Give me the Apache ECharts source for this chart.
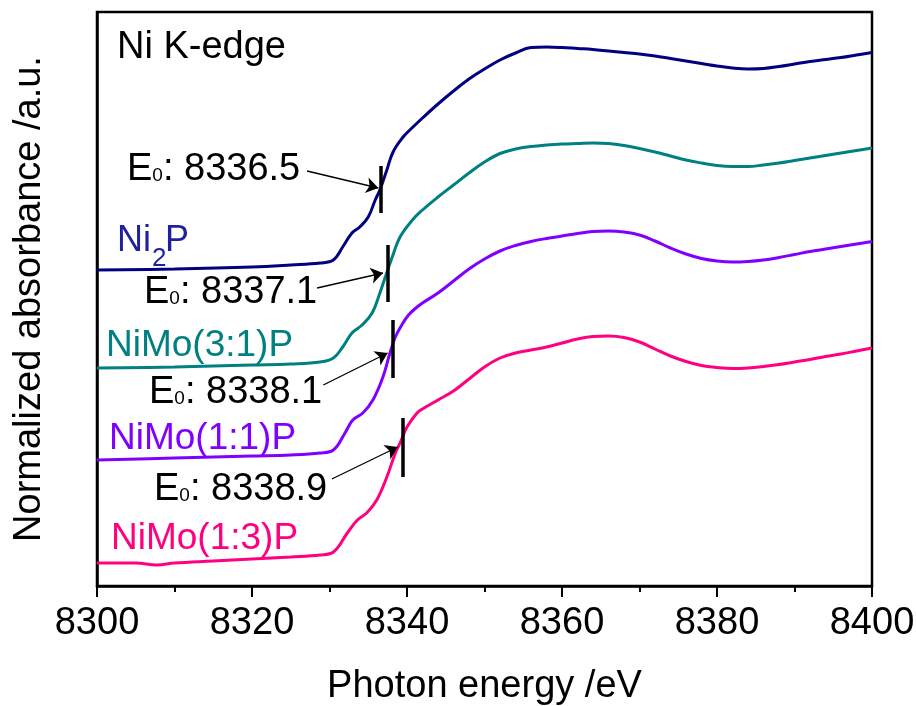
<!DOCTYPE html>
<html><head><meta charset="utf-8">
<script src="https://cdn.jsdelivr.net/npm/echarts@6/dist/echarts.min.js"></script>
<style>html,body{margin:0;padding:0;background:#fff}#c{width:916px;height:706px}</style>
</head><body><div id="c"></div>
<script>
const FONT = '"Liberation Sans", Arial, sans-serif';

// ---------- data ----------
const xTicks = [8300, 8320, 8340, 8360, 8380, 8400];
const seriesNames = ['Ni2P', 'NiMo(3:1)P', 'NiMo(1:1)P', 'NiMo(1:3)P'];
const seriesColors = ['#000080', '#008080', '#8000FF', '#FF0080'];

const ni2p = [[8300,3.18],[8310,3.19],[8320,3.21],[8325,3.23],[8328.8,3.25],[8330.5,3.28],[8331.7,3.41],[8332.9,3.55],[8333.9,3.61],[8335.0,3.71],[8335.9,3.88],[8336.5,3.98],[8337.4,4.18],[8338.2,4.36],[8339.5,4.51],[8340.5,4.59],[8342,4.70],[8344,4.84],[8346,4.97],[8348,5.09],[8350,5.19],[8352,5.28],[8354,5.35],[8356,5.405],[8358,5.41],[8360,5.405],[8362,5.395],[8364,5.385],[8366,5.37],[8368,5.355],[8370,5.34],[8372,5.32],[8374,5.295],[8376,5.27],[8378,5.245],[8380,5.22],[8382,5.20],[8384,5.19],[8386,5.195],[8388,5.215],[8390,5.24],[8392,5.265],[8394,5.285],[8396,5.305],[8398,5.33],[8400,5.355]];
const nimo31 = [[8300,2.20],[8310,2.21],[8320,2.23],[8325,2.24],[8328.8,2.26],[8330.5,2.30],[8331.7,2.41],[8332.9,2.55],[8334.2,2.63],[8335.5,2.75],[8336.5,2.95],[8337.2,3.11],[8338.1,3.31],[8339.1,3.51],[8340.7,3.68],[8342,3.78],[8344,3.91],[8346,4.03],[8348,4.15],[8350,4.26],[8352,4.345],[8354,4.39],[8356,4.415],[8358,4.43],[8360,4.44],[8362,4.445],[8364,4.45],[8366,4.445],[8368,4.425],[8370,4.395],[8372,4.36],[8374,4.32],[8376,4.28],[8378,4.25],[8380,4.225],[8382,4.215],[8384,4.215],[8386,4.23],[8388,4.25],[8390,4.275],[8392,4.30],[8394,4.325],[8396,4.35],[8398,4.375],[8400,4.40]];
const nimo11 = [[8300,1.28],[8310,1.30],[8320,1.32],[8325,1.33],[8328.8,1.35],[8330.5,1.38],[8332.0,1.55],[8333.0,1.68],[8334.3,1.75],[8335.6,1.88],[8336.9,2.11],[8337.8,2.35],[8338.5,2.51],[8339.4,2.64],[8340.2,2.73],[8341.3,2.81],[8342,2.85],[8344,2.95],[8346,3.07],[8348,3.19],[8350,3.29],[8352,3.37],[8354,3.425],[8356,3.465],[8358,3.495],[8360,3.52],[8362,3.545],[8364,3.565],[8366,3.57],[8368,3.56],[8370,3.53],[8372,3.47],[8374,3.40],[8376,3.34],[8378,3.295],[8380,3.27],[8382,3.26],[8384,3.265],[8386,3.28],[8388,3.305],[8390,3.335],[8392,3.365],[8394,3.39],[8396,3.415],[8398,3.44],[8400,3.465]];
const nimo13 = [[8300,0.25],[8305,0.25],[8307.7,0.23],[8310,0.25],[8315,0.27],[8320,0.29],[8325,0.31],[8328.8,0.33],[8330.5,0.36],[8332.3,0.55],[8333.6,0.68],[8334.8,0.75],[8336.1,0.88],[8337.4,1.11],[8338.5,1.35],[8339.1,1.45],[8340.0,1.61],[8341.3,1.75],[8342,1.79],[8344,1.88],[8346,1.97],[8348,2.09],[8350,2.21],[8352,2.30],[8354,2.35],[8356,2.38],[8358,2.41],[8360,2.45],[8362,2.49],[8364,2.515],[8366,2.52],[8368,2.505],[8370,2.46],[8372,2.39],[8374,2.32],[8376,2.265],[8378,2.225],[8380,2.205],[8382,2.195],[8384,2.20],[8386,2.215],[8388,2.235],[8390,2.26],[8392,2.285],[8394,2.315],[8396,2.34],[8398,2.37],[8400,2.40]];
const seriesData = [ni2p, nimo31, nimo11, nimo13];

// E0 markers (vertical bars) and arrows
const e0Labels = ['8336.5', '8337.1', '8338.1', '8338.9'];
const e0MarkX = [8336.6, 8337.5, 8338.2, 8339.4];
const e0MarkLow = [3.75, 2.86, 2.10, 1.11];
const e0MarkHigh = [4.22, 3.43, 2.68, 1.70];
const arrowFrom = [[8327.1, 4.17], [8328.4, 3.00], [8329.2, 2.03], [8330.3, 1.09]];
const arrowTo = [[8336.3, 4.00], [8336.9, 3.15], [8337.5, 2.35], [8338.8, 1.41]];

// ---------- chart ----------
const chart = echarts.init(document.getElementById('c'), null, {renderer: 'canvas'});

const series = seriesData.map((d, i) => ({
  type: 'line', name: seriesNames[i], data: d, showSymbol: false, smooth: 0.4,
  lineStyle: {color: seriesColors[i], width: 3}, z: 2, animation: false
}));

series.push({
  type: 'line', data: [], animation: false, silent: true,
  markLine: {
    silent: true, animation: false, label: {show: false},
    symbol: ['none', 'none'],
    data: e0MarkX.map((x, i) => [
      {coord: [x, e0MarkLow[i]], lineStyle: {color: '#000', width: 3.5, type: 'solid'}},
      {coord: [x, e0MarkHigh[i]]}
    ])
  }
});
series.push({
  type: 'line', data: [], animation: false, silent: true,
  markLine: {
    silent: true, animation: false, label: {show: false},
    symbol: ['none', 'arrow'], symbolSize: 12,
    data: arrowFrom.map((p, i) => [
      {coord: p, lineStyle: {color: '#000', width: 1.3, type: 'solid'}},
      {coord: arrowTo[i]}
    ])
  }
});

const graphics = [];
function txt(str, left, bottom, size, color) {
  graphics.push({type: 'text', x: left, y: bottom, z: 100,
    style: {text: str, fontSize: size, fontFamily: FONT, fill: color, align: 'left', verticalAlign: 'bottom'}});
}
txt('Ni K-edge', 117, 67, 38, '#000');
txt('Ni', 117, 259, 36, '#1f1fa0');
txt('2', 152, 272, 26, '#1f1fa0');
txt('P', 165, 259, 36, '#1f1fa0');
txt('NiMo(3:1)P', 106, 364, 37, seriesColors[1]);
txt('NiMo(1:1)P', 109, 457, 37, seriesColors[2]);
txt('NiMo(1:3)P', 111, 557, 37, seriesColors[3]);

const e0Pos = [[127, 189], [144, 312], [149, 412], [154, 509]];
e0Labels.forEach((t, i) => {
  graphics.push({type: 'text', x: e0Pos[i][0], y: e0Pos[i][1], z: 100,
    style: {text: '{e|E}{s|0}{e|: ' + t + '}', align: 'left', verticalAlign: 'bottom',
      rich: {
        e: {fontSize: 38, fontFamily: FONT, fill: '#000'},
        s: {fontSize: 19, fontFamily: FONT, fill: '#000', verticalAlign: 'bottom', padding: [0, 0, 4, 0]}
      }}});
});

chart.setOption({
  animation: false,
  backgroundColor: '#fff',
  grid: {left: 97, right: 44, top: 12, bottom: 120, outerBoundsMode: 'none', containLabel: false,
    show: true, borderColor: '#000', borderWidth: 2.5, backgroundColor: 'transparent'},
  xAxis: {
    type: 'value', min: xTicks[0], max: xTicks[xTicks.length - 1], interval: xTicks[1] - xTicks[0],
    name: 'Photon energy /eV', nameLocation: 'middle', nameGap: 82,
    nameTextStyle: {fontSize: 38, fontFamily: FONT, color: '#000'},
    axisLine: {lineStyle: {color: '#000', width: 2.5}},
    axisTick: {length: 11, lineStyle: {color: '#000', width: 2}},
    minorTick: {show: true, splitNumber: 2, length: 6, lineStyle: {color: '#000', width: 2}},
    axisLabel: {fontSize: 38, fontFamily: FONT, color: '#000', margin: 19, showMinLabel: true, showMaxLabel: true,
      formatter: v => String(v)},
    splitLine: {show: false}, minorSplitLine: {show: false}
  },
  yAxis: {
    type: 'value', min: 0.02, max: 5.76,
    name: 'Normalized absorbance /a.u.', nameLocation: 'middle', nameGap: 48,
    nameTextStyle: {fontSize: 38, fontFamily: FONT, color: '#000'},
    axisLine: {show: true, lineStyle: {color: '#000', width: 2.5}},
    axisTick: {show: false}, axisLabel: {show: false}, splitLine: {show: false}
  },
  series: series,
  graphic: graphics
});
</script>
</body></html>
